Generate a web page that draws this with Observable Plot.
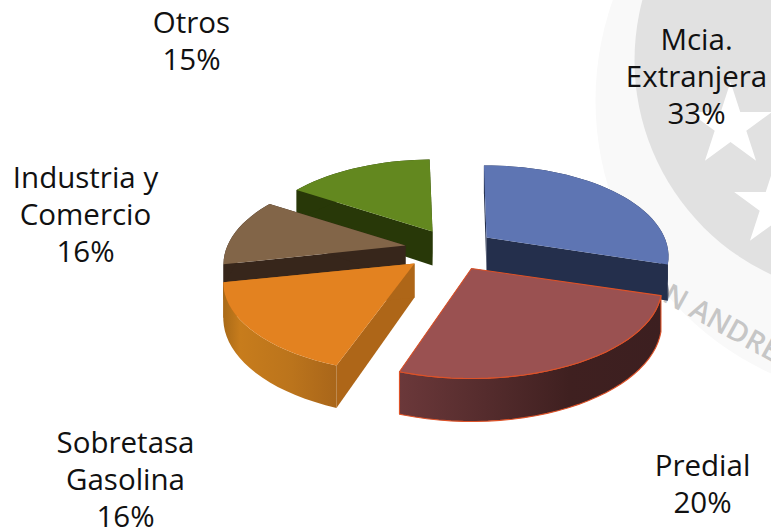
<!DOCTYPE html>
<html>
<head>
<meta charset="utf-8">
<script src="https://cdn.jsdelivr.net/npm/d3@7"></script>
<script src="https://cdn.jsdelivr.net/npm/@observablehq/plot@0.6"></script>
<style>html,body{margin:0;padding:0;background:#fff;overflow:hidden}</style>
</head>
<body>
<div id="chart"></div>
<script>
// ---- data ----
const categories = ["Mcia. Extranjera", "Predial", "Sobretasa Gasolina", "Industria y Comercio", "Otros"];
const labelTexts = ["Mcia.\nExtranjera\n33%", "Predial\n20%", "Sobretasa\nGasolina\n16%", "Industria y\nComercio\n16%", "Otros\n15%"];
// share of the turn each slice takes in the drawing
const drawnShares = [30, 25.3, 16.25, 12.2, 15.8];

// ---- layout and style ----
const W = 771, H = 530;
const pie = {cx: 440, cy: 250, k: 87, p: 0.209, depth: 34, start: 91};
const radius = [178, 186, 187, 178, 178];
const gapBefore = [0, 0, 1.5, 0, 0];
const explode = [[46, -13], [31, 18], [-26, 13], [-35, -5], [-8, -19]];
const topColor = ["#5e75b3", "#9a5151", "#e38220", "#826548", "#63881f"];
const cutColor = ["#242f4c", "#3f2020", "#ae6618", "#37261b", "#283808"];
const wallColor = ["#242f4c", "url(#wallRed)", "url(#wallOrange)", "#37261b", "#283808"];
const edgeColor = ["none", "#dd5228", "none", "none", "none"];
const paintOrder = [4, 0, 3, 2, 1];
const labelAt = [[696, 75], [702, 482], [125, 478], [85, 213], [191, 39]];

// ---- geometry from the shares ----
let acc = pie.start;
const spans = drawnShares.map((v, i) => { acc -= gapBefore[i]; const a0 = acc; acc -= v * 3.6; return [a0, acc]; });

function rim(i, deg) {
  const t = deg * Math.PI / 180, X = Math.cos(t), Y = Math.sin(t), s = 1 / (1 + pie.p * Y);
  return {x: pie.cx + explode[i][0] + radius[i] * X * s, y: pie.cy + explode[i][1] - pie.k * Y * s, h: pie.depth * s};
}
const drop = q => ({x: q.x, y: q.y + q.h});

const marks = [];
// faint emblem behind the chart
marks.push(
  Plot.dot([[895, 100]], {x: d => d[0], y: d => d[1], r: 300, fill: "#f9f9f9"}),
  Plot.dot([[870, 60]], {x: d => d[0], y: d => d[1], r: 236, fill: "#e1e1e1"}),
  Plot.dot([[730, 125], [775, 205]], {x: d => d[0], y: d => d[1], r: 26, symbol: "star", fill: "#fff"}),
  Plot.text(["N ANDRES"], {x: () => 665, y: () => 292, text: d => d, textAnchor: "start", rotate: 29,
    fontFamily: "Open Sans", fontSize: 29, fontWeight: 600, fill: "#c6c6c6"})
);
// gradients for the curved walls
marks.push(() => {
  const svgNS = "http://www.w3.org/2000/svg";
  const defs = document.createElementNS(svgNS, "defs");
  const add = (id, stops) => {
    const g = document.createElementNS(svgNS, "linearGradient");
    g.setAttribute("id", id);
    stops.forEach(([o, c]) => {
      const s = document.createElementNS(svgNS, "stop");
      s.setAttribute("offset", o); s.setAttribute("stop-color", c); g.appendChild(s);
    });
    defs.appendChild(g);
  };
  add("wallRed", [[0, "#6b383a"], [0.65, "#3f2020"], [1, "#3c1f20"]]);
  add("wallOrange", [[0, "#a96a18"], [0.15, "#c77c1c"], [0.6, "#bb741c"], [1, "#a9661a"]]);
  return defs;
});

const poly = (pts, fill, stroke) => Plot.line([...pts, pts[0]], {x: "x", y: "y", fill, stroke: stroke, strokeWidth: 1.1, curve: "linear"});

for (const i of paintOrder) {
  const apex = {x: pie.cx + explode[i][0], y: pie.cy + explode[i][1], h: pie.depth};
  const degs = d3.range(spans[i][0], spans[i][1], -3).concat(spans[i][1]);
  const arc = degs.map(d => rim(i, d));
  const a = arc[0], b = arc[arc.length - 1];
  marks.push(poly([apex, a, drop(a), drop(apex)], cutColor[i], "none"));
  marks.push(poly([apex, b, drop(b), drop(apex)], cutColor[i], "none"));
  marks.push(poly([...arc, ...arc.map(drop).reverse()], wallColor[i], edgeColor[i]));
  marks.push(poly([apex, ...arc], topColor[i], edgeColor[i]));
}

// labels
marks.push(Plot.text(labelTexts, {
  x: (d, i) => labelAt[i][0], y: (d, i) => labelAt[i][1], text: d => d,
  fontFamily: "Open Sans", fontSize: 29.5, lineHeight: 1.25, fill: "#111", textAnchor: "middle"
}));

const chart = Plot.plot({
  width: W, height: H, margin: 0,
  x: {domain: [0, W], axis: null},
  y: {domain: [H, 0], axis: null},
  marks
});
document.getElementById("chart").appendChild(chart);
</script>
</body>
</html>
